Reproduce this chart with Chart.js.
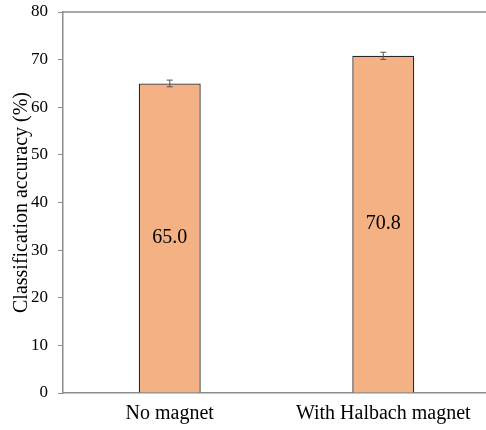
<!DOCTYPE html>
<html lang="en">
<head>
    <meta charset="UTF-8">
    <title>Classification accuracy</title>
    <script src="https://cdn.jsdelivr.net/npm/chart.js@4/dist/chart.umd.min.js"></script>
    <style>
        html, body { margin: 0; padding: 0; background: #fff; overflow: hidden; }
        /* the source figure is cropped a few pixels past the plot's right edge */
        #wrap { width: 486px; height: 430px; overflow: hidden; }
    </style>
</head>
<body>
<div id="wrap">
    <canvas id="accChart" width="490" height="430"></canvas>
</div>
<script>
    const categories = ['No magnet', 'With Halbach magnet'];
    const accuracy = [65.0, 70.8];
    const errors = [0.7, 0.75];
    const yTicks = [0, 10, 20, 30, 40, 50, 60, 70, 80];

    const serif = 'Liberation Serif, Times New Roman, serif';
    const axisGray = '#8c8c8c';

    // error bars, value labels and the top frame line
    const extras = {
        id: 'extras',
        afterDatasetsDraw(chart) {
            const ctx = chart.ctx;
            const y = chart.scales.y;
            const area = chart.chartArea;
            const meta = chart.getDatasetMeta(0);

            ctx.save();
            ctx.strokeStyle = axisGray;
            ctx.lineWidth = 1.5;
            ctx.beginPath();
            ctx.moveTo(area.left, area.top);
            ctx.lineTo(area.right, area.top);
            ctx.stroke();

            meta.data.forEach((bar, i) => {
                const hi = y.getPixelForValue(accuracy[i] + errors[i]);
                const lo = y.getPixelForValue(accuracy[i] - errors[i]);
                ctx.strokeStyle = '#555';
                ctx.lineWidth = 1;
                ctx.beginPath();
                ctx.moveTo(bar.x, hi);
                ctx.lineTo(bar.x, lo);
                ctx.moveTo(bar.x - 3, hi);
                ctx.lineTo(bar.x + 3, hi);
                ctx.moveTo(bar.x - 3, lo);
                ctx.lineTo(bar.x + 3, lo);
                ctx.stroke();

                ctx.fillStyle = '#000';
                ctx.font = '20px ' + serif;
                ctx.textAlign = 'center';
                ctx.textBaseline = 'middle';
                ctx.fillText(accuracy[i].toFixed(1), bar.x, (bar.y + bar.base) / 2);
            });
            ctx.restore();
        }
    };

    new Chart(document.getElementById('accChart').getContext('2d'), {
        type: 'bar',
        data: {
            labels: categories,
            datasets: [{
                data: accuracy,
                backgroundColor: '#F4B183',
                borderColor: '#262626',
                borderWidth: 1.3,
                barPercentage: 0.29,
                categoryPercentage: 1.0
            }]
        },
        options: {
            responsive: false,
            animation: false,
            layout: { padding: { top: 12, right: 0, bottom: 0, left: 10 } },
            plugins: {
                legend: { display: false },
                tooltip: { enabled: false }
            },
            scales: {
                x: {
                    grid: { display: false, tickLength: 0 },
                    border: { display: true, color: axisGray, width: 1.5 },
                    ticks: {
                        color: '#000',
                        font: { family: serif, size: 20 },
                        padding: 9
                    },
                    afterFit(scale) {
                        scale.height = 37;
                        scale.paddingLeft = 0;
                        scale.paddingRight = 0;
                    }
                },
                y: {
                    min: 0,
                    max: 80,
                    afterBuildTicks(scale) {
                        scale.ticks = yTicks.map(v => ({ value: v }));
                    },
                    grid: {
                        drawOnChartArea: false,
                        drawTicks: true,
                        tickLength: 5,
                        color: axisGray
                    },
                    border: { display: true, color: axisGray, width: 1.5 },
                    ticks: {
                        color: '#000',
                        font: { family: serif, size: 17 },
                        padding: 10
                    },
                    title: {
                        display: true,
                        text: 'Classification accuracy (%)',
                        color: '#000',
                        font: { family: serif, size: 20 },
                        padding: { top: 0, bottom: 1 }
                    },
                    afterFit(scale) {
                        scale.width = 53;
                        scale.paddingTop = 0;
                        scale.paddingBottom = 0;
                    }
                }
            }
        },
        plugins: [extras]
    });
</script>
</body>
</html>
